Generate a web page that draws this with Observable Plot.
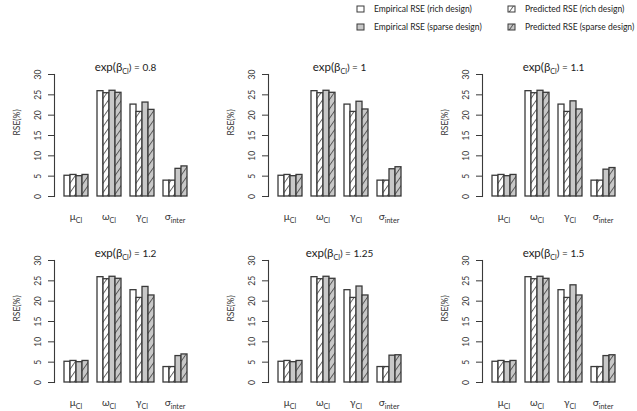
<!DOCTYPE html>
<html>
<head>
<meta charset="utf-8">
<script src="https://cdn.jsdelivr.net/npm/d3@7"></script>
<script src="https://cdn.jsdelivr.net/npm/@observablehq/plot@0.6"></script>
<style>
  body { margin: 0; background: #fff; font-family: Lato, "Open Sans", sans-serif; }
  #root { position: relative; width: 637px; height: 411px; overflow: hidden; background: #fff; }
  .panel { position: absolute; width: 214px; height: 186px; }
  .panel svg { max-width: none !important; }
  .legend { position: absolute; font-size: 8.5px; color: #222; display: flex; align-items: center; white-space: nowrap; }
  .legend svg { margin-right: 9px; }
</style>
</head>
<body>
<svg width="0" height="0" style="position:absolute">
  <defs>
    <pattern id="hatchWhite" patternUnits="userSpaceOnUse" width="5.4" height="20" patternTransform="rotate(35)">
      <rect width="5.4" height="20" fill="#ffffff"/>
      <line x1="0.5" y1="0" x2="0.5" y2="20" stroke="#3a3a3a" stroke-width="0.8"/>
    </pattern>
    <pattern id="hatchGray" patternUnits="userSpaceOnUse" width="5.4" height="20" patternTransform="rotate(35)">
      <rect width="5.4" height="20" fill="#c8c8c8"/>
      <line x1="0.5" y1="0" x2="0.5" y2="20" stroke="#3a3a3a" stroke-width="0.8"/>
    </pattern>
  </defs>
</svg>
<div id="root"></div>
<script>
// ---- data ----
const betaValues = ["0.8", "1", "1.1", "1.2", "1.25", "1.5"];
const params = ["μ{Cl}", "ω{Cl}", "γ{Cl}", "σ{inter}"];
const seriesNames = [
  "Empirical RSE (rich design)",
  "Predicted RSE (rich design)",
  "Empirical RSE (sparse design)",
  "Predicted RSE (sparse design)"
];
const seriesFills = ["#ffffff", "url(#hatchWhite)", "#c8c8c8", "url(#hatchGray)"];
const yTicks = [0, 5, 10, 15, 20, 25, 30];

// rows: panels (beta values); columns: params (mu, omega, gamma, sigma)
const empiricalRich = [
  [5.1, 25.9, 22.6, 3.9],
  [5.1, 25.9, 22.6, 3.9],
  [5.1, 25.9, 22.6, 3.9],
  [5.1, 25.9, 22.7, 3.8],
  [5.1, 25.9, 22.7, 3.8],
  [5.1, 25.9, 22.7, 3.8]
];
const predictedRich = [
  [5.3, 25.4, 20.8, 3.9],
  [5.3, 25.4, 20.8, 3.9],
  [5.3, 25.4, 20.8, 3.9],
  [5.3, 25.4, 20.8, 3.8],
  [5.3, 25.4, 20.8, 3.8],
  [5.3, 25.4, 20.8, 3.8]
];
const empiricalSparse = [
  [5.0, 26.0, 23.1, 6.8],
  [5.0, 26.0, 23.3, 6.7],
  [5.0, 26.0, 23.4, 6.6],
  [5.0, 26.0, 23.5, 6.5],
  [5.0, 26.0, 23.6, 6.6],
  [5.0, 26.0, 23.9, 6.5]
];
const predictedSparse = [
  [5.3, 25.5, 21.3, 7.4],
  [5.3, 25.5, 21.4, 7.2],
  [5.3, 25.5, 21.4, 7.0],
  [5.3, 25.5, 21.4, 6.9],
  [5.3, 25.5, 21.4, 6.7],
  [5.3, 25.5, 21.4, 6.7]
];
const seriesValues = [empiricalRich, predictedRich, empiricalSparse, predictedSparse];

// ---- helpers ----
function applySubscripts(svg) {
  svg.querySelectorAll("text").forEach(t => {
    const s = t.textContent;
    const m = s.match(/^(.*?)\{(.*?)\}(.*)$/);
    if (!m) return;
    const fs = parseFloat(getComputedStyle(t).fontSize) || 10;
    t.textContent = m[1];
    const sub = document.createElementNS("http://www.w3.org/2000/svg", "tspan");
    sub.setAttribute("dy", (fs * 0.3).toFixed(2));
    sub.setAttribute("font-size", (fs * 0.72).toFixed(2));
    sub.textContent = m[2];
    t.appendChild(sub);
    if (m[3]) {
      const rest = document.createElementNS("http://www.w3.org/2000/svg", "tspan");
      rest.setAttribute("dy", (-fs * 0.3).toFixed(2));
      rest.setAttribute("font-size", fs);
      rest.textContent = m[3];
      t.appendChild(rest);
    }
  });
}

const root = document.getElementById("root");

betaValues.forEach((beta, i) => {
  const rows = [];
  params.forEach((p, j) => {
    seriesNames.forEach((s, k) => {
      rows.push({param: p, series: s, value: seriesValues[k][i][j]});
    });
  });
  const col = i % 3, row = Math.floor(i / 3);
  const chart = Plot.plot({
    width: 214,
    height: 186,
    marginLeft: 61,
    marginRight: 24,
    marginTop: 19,
    marginBottom: 45,
    style: {fontFamily: "Lato, 'Open Sans', sans-serif", fontSize: "10px", color: "#333", background: "transparent", overflow: "visible"},
    fx: {domain: params, paddingInner: 0.18, paddingOuter: 0, label: null},
    x: {domain: seriesNames, paddingInner: 0, paddingOuter: 0, axis: null},
    y: {domain: [0, 30], axis: null},
    color: {domain: seriesNames, range: seriesFills},
    marks: [
      Plot.barY(rows, {fx: "param", x: "series", y: "value", fill: "series", stroke: "#3a3a3a", strokeWidth: 1.3}),
      Plot.axisFx({anchor: "bottom", tickSize: 0, tickPadding: 16, label: null, fontSize: 10, tickFormat: d => d}),
      Plot.axisY({ticks: yTicks, tickSize: 6, tickRotate: -90, tickPadding: 8, dx: -8, fontSize: 8.5, label: null, stroke: "#3a3a3a"}),
      Plot.frame({anchor: "left", facetAnchor: "left", dx: -8, stroke: "#3a3a3a", strokeWidth: 1.1}),
      Plot.text([`exp(β{Cl}) = ${beta}`], {facet: "super", frameAnchor: "top", lineAnchor: "bottom", dy: -4, fontSize: 11.5, fill: "#222"}),
      Plot.text(["RSE(%)"], {facet: "super", frameAnchor: "left", rotate: -90, dx: -45, fontSize: 8.5, fill: "#333"})
    ]
  });
  applySubscripts(chart);
  const div = document.createElement("div");
  div.className = "panel";
  div.style.left = (col * 214) + "px";
  div.style.top = (55 + row * 186) + "px";
  div.appendChild(chart);
  root.appendChild(div);
});

// ---- legend ----
const legendPos = [
  {left: 356, top: 4}, {left: 507, top: 4},
  {left: 356, top: 22}, {left: 507, top: 22}
];
seriesNames.forEach((name, k) => {
  const pos = legendPos[k];
  const el = document.createElement("div");
  el.className = "legend";
  el.style.left = pos.left + "px";
  el.style.top = pos.top + "px";
  el.innerHTML = `<svg width="9" height="8"><rect x="1" y="1" width="7" height="6" fill="${seriesFills[k]}" stroke="#3a3a3a" stroke-width="1"/></svg><span>${name}</span>`;
  root.appendChild(el);
});
</script>
</body>
</html>
